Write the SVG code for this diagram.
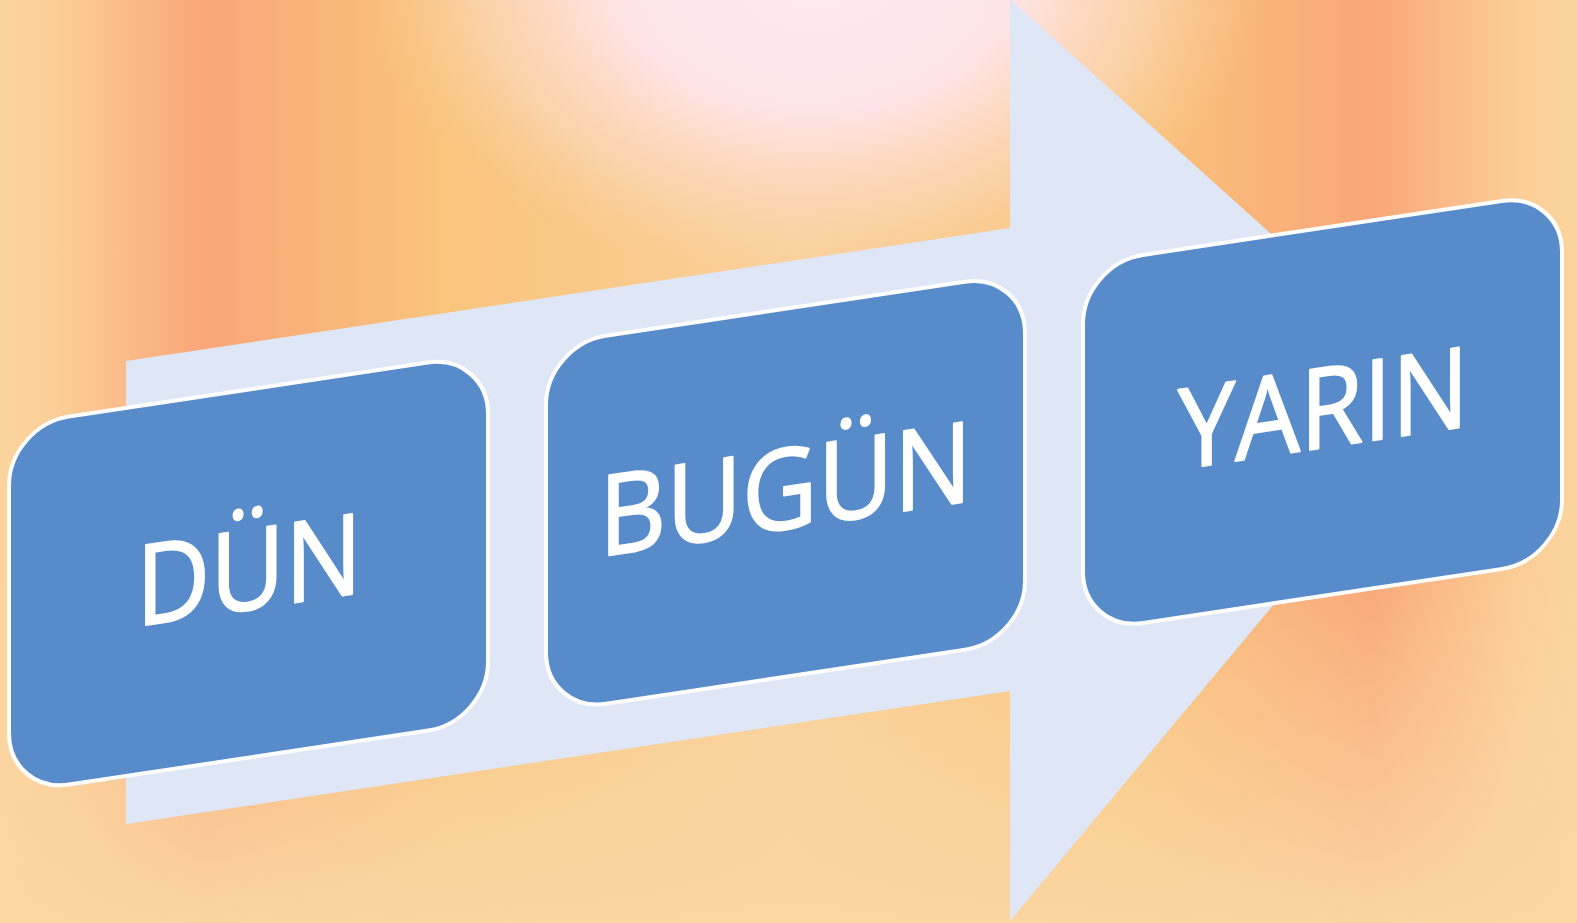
<svg xmlns="http://www.w3.org/2000/svg" width="1577" height="923" viewBox="0 0 1577 923">
  <defs>
    <linearGradient id="bgH" x1="0" y1="0" x2="1577" y2="0" gradientUnits="userSpaceOnUse">
      <stop offset="0" stop-color="#FBD49D"/>
      <stop offset="0.04" stop-color="#FBCC96"/>
      <stop offset="0.13" stop-color="#F9A678"/>
      <stop offset="0.28" stop-color="#F9C47C"/>
      <stop offset="0.5" stop-color="#FAD09A"/>
      <stop offset="0.72" stop-color="#F9C47C"/>
      <stop offset="0.87" stop-color="#F9A678"/>
      <stop offset="0.96" stop-color="#FBCC96"/>
      <stop offset="1" stop-color="#FBD49D"/>
    </linearGradient>
    <radialGradient id="bgPink" cx="815" cy="-30" r="450" gradientUnits="userSpaceOnUse" gradientTransform="translate(815 -30) scale(1 0.7) translate(-815 30)">
      <stop offset="0" stop-color="#FEEAF2" stop-opacity="1"/>
      <stop offset="0.45" stop-color="#FEE5EA" stop-opacity="0.95"/>
      <stop offset="0.75" stop-color="#FCD8BC" stop-opacity="0.65"/>
      <stop offset="1" stop-color="#FAD0A0" stop-opacity="0"/>
    </radialGradient>
    <linearGradient id="bgV" x1="0" y1="560" x2="0" y2="923" gradientUnits="userSpaceOnUse">
      <stop offset="0" stop-color="#FBD6A4" stop-opacity="0"/>
      <stop offset="1" stop-color="#FAD6A3" stop-opacity="0.95"/>
    </linearGradient>
    <style>
      .box { fill: #578BC9; stroke: #FFFFFF; stroke-width: 4; }
      .lbl { fill: #FFFFFF; stroke: #FFFFFF; stroke-width: 2; stroke-linejoin: round; font-family: "Open Sans", "Noto Sans", "Liberation Sans", sans-serif; font-size: 112px; }
    </style>
  </defs>

  <g id="background">
    <rect x="0" y="0" width="1577" height="923" fill="url(#bgH)"/>
    <rect x="0" y="0" width="1577" height="923" fill="url(#bgPink)"/>
    <rect x="0" y="0" width="1577" height="923" fill="url(#bgV)"/>
  </g>

  <g id="connectors" transform="matrix(1,-0.1505,0,1,0,0)">
    <polygon id="arrow" points="126,380 1010,380 1010,151 1449,612 1010,1073 1010,843 126,843" fill="#DFE6F6"/>
  </g>

  <g id="node-dun" transform="matrix(1,-0.1505,0,1,0,0)">
    <rect class="box" x="9" y="427" width="479" height="368" rx="60" ry="60"/>
    <text class="lbl" x="136" y="647" textLength="226" lengthAdjust="spacingAndGlyphs">DÜN</text>
  </g>

  <g id="node-bugun" transform="matrix(1,-0.1505,0,1,0,0)">
    <rect class="box" x="546" y="427" width="479" height="368" rx="60" ry="60"/>
    <text class="lbl" x="599" y="647" textLength="373" lengthAdjust="spacingAndGlyphs">BUGÜN</text>
  </g>

  <g id="node-yarin" transform="matrix(1,-0.1505,0,1,0,0)">
    <rect class="box" x="1083" y="427" width="479" height="368" rx="60" ry="60"/>
    <text class="lbl" x="1178" y="647" textLength="291" lengthAdjust="spacingAndGlyphs">YARIN</text>
  </g>
</svg>
